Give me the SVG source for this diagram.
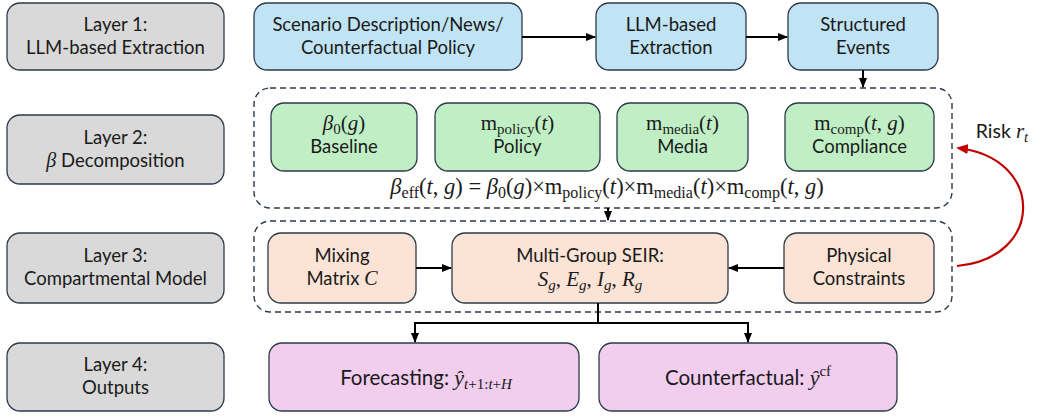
<svg xmlns="http://www.w3.org/2000/svg" width="1049" height="419" viewBox="0 0 1049 419">
<defs>
<style>
.layer{fill:#d9d9d9;stroke:#2b3a4a;stroke-width:1.3}
.blue{fill:#c1e4f4;stroke:#2b3a4a;stroke-width:1.3}
.green{fill:#c1efc5;stroke:#2b3a4a;stroke-width:1.3}
.orange{fill:#fbe3d5;stroke:#2b3a4a;stroke-width:1.3}
.pink{fill:#f1cdee;stroke:#2b3a4a;stroke-width:1.3}
.dash{fill:none;stroke:#2b3a4a;stroke-width:1.4;stroke-dasharray:6 4}
.t{font-family:Lato,"Open Sans","Liberation Sans",sans-serif;font-size:18.5px;fill:#1a1a1a;text-anchor:middle}
.m{font-family:"Liberation Serif","DejaVu Serif",serif;font-size:21px;fill:#1a1a1a}
.i{font-style:italic}
.s{font-size:15px}
.conn{fill:none;stroke:#000;stroke-width:2}
</style>
<marker id="ah" markerWidth="10" markerHeight="8" refX="9" refY="4" orient="auto" markerUnits="userSpaceOnUse">
<path d="M0,0 L10,4 L0,8 z" fill="#000"/>
</marker>
<marker id="ahr" markerWidth="12" markerHeight="10" refX="10" refY="5" orient="auto" markerUnits="userSpaceOnUse">
<path d="M0,0 L12,5 L0,10 z" fill="#c00000"/>
</marker>
</defs>
<rect width="1049" height="419" fill="#fff"/>

<g id="layer1"><rect class="layer" x="7" y="3" width="217" height="67" rx="13"/><text class="t" x="115.5" y="31">Layer 1:</text><text class="t" x="115.5" y="54">LLM-based Extraction</text></g>
<g id="layer2"><rect class="layer" x="7" y="115" width="217" height="69" rx="13"/><text class="t" x="115.5" y="144">Layer 2:</text><text class="t" x="115.5" y="167"><tspan class="m i" style="font-size:20px">β</tspan> Decomposition</text></g>
<g id="layer3"><rect class="layer" x="7" y="233" width="217" height="70" rx="13"/><text class="t" x="115.5" y="262">Layer 3:</text><text class="t" x="115.5" y="285">Compartmental Model</text></g>
<g id="layer4"><rect class="layer" x="7" y="343" width="217" height="68" rx="13"/><text class="t" x="115.5" y="371">Layer 4:</text><text class="t" x="115.5" y="394">Outputs</text></g>

<g id="scenario"><rect class="blue" x="254" y="3" width="268" height="67" rx="13"/><text class="t" x="388" y="31">Scenario Description/News/</text><text class="t" x="388" y="54">Counterfactual Policy</text></g>
<g id="llm"><rect class="blue" x="596" y="3" width="150" height="67" rx="13"/><text class="t" x="671" y="31">LLM-based</text><text class="t" x="671" y="54">Extraction</text></g>
<g id="events"><rect class="blue" x="788" y="3" width="150" height="67" rx="13"/><text class="t" x="863" y="31">Structured</text><text class="t" x="863" y="54">Events</text></g>

<g id="beta-group"><rect class="dash" x="254" y="88" width="698" height="120" rx="16"/>
<text class="m" x="607" y="194" text-anchor="middle" style="font-size:22.5px"><tspan class="i">β</tspan><tspan class="s" dy="4" style="font-size:16px">eff</tspan><tspan dy="-4">(</tspan><tspan class="i">t</tspan>, <tspan class="i">g</tspan>) = <tspan class="i">β</tspan><tspan class="s" dy="4" style="font-size:16px">0</tspan><tspan dy="-4">(</tspan><tspan class="i">g</tspan>)×m<tspan class="s" dy="4" style="font-size:16px">policy</tspan><tspan dy="-4">(</tspan><tspan class="i">t</tspan>)×m<tspan class="s" dy="4" style="font-size:16px">media</tspan><tspan dy="-4">(</tspan><tspan class="i">t</tspan>)×m<tspan class="s" dy="4" style="font-size:16px">comp</tspan><tspan dy="-4">(</tspan><tspan class="i">t</tspan>, <tspan class="i">g</tspan>)</text>
</g>
<g id="baseline"><rect class="green" x="271" y="103" width="146" height="68" rx="13"/><text class="m" x="344" y="130" text-anchor="middle"><tspan class="i">β</tspan><tspan class="s" dy="4">0</tspan><tspan dy="-4">(</tspan><tspan class="i">g</tspan>)</text><text class="t" x="344" y="153">Baseline</text></g>
<g id="policy"><rect class="green" x="435" y="103" width="165" height="68" rx="13"/><text class="m" x="517.5" y="130" text-anchor="middle">m<tspan class="s" dy="4">policy</tspan><tspan dy="-4">(</tspan><tspan class="i">t</tspan>)</text><text class="t" x="517.5" y="153">Policy</text></g>
<g id="media"><rect class="green" x="617" y="103" width="131" height="68" rx="13"/><text class="m" x="682.5" y="130" text-anchor="middle">m<tspan class="s" dy="4">media</tspan><tspan dy="-4">(</tspan><tspan class="i">t</tspan>)</text><text class="t" x="682.5" y="153">Media</text></g>
<g id="compliance"><rect class="green" x="785" y="103" width="149" height="68" rx="13"/><text class="m" x="859.5" y="130" text-anchor="middle">m<tspan class="s" dy="4">comp</tspan><tspan dy="-4">(</tspan><tspan class="i">t</tspan>, <tspan class="i">g</tspan>)</text><text class="t" x="859.5" y="153">Compliance</text></g>

<g id="model-group"><rect class="dash" x="254" y="221" width="698" height="91" rx="16"/></g>
<g id="mixing"><rect class="orange" x="268" y="233" width="148" height="70" rx="13"/><text class="t" x="342" y="262">Mixing</text><text class="t" x="342" y="285">Matrix <tspan class="m i" style="font-size:20px">C</tspan></text></g>
<g id="seir"><rect class="orange" x="452" y="233" width="276" height="70" rx="13"/><text class="t" x="590" y="262">Multi-Group SEIR:</text><text class="m" x="590" y="286" text-anchor="middle"><tspan class="i">S</tspan><tspan class="s i" dy="4">g</tspan><tspan dy="-4">, </tspan><tspan class="i">E</tspan><tspan class="s i" dy="4">g</tspan><tspan dy="-4">, </tspan><tspan class="i">I</tspan><tspan class="s i" dy="4">g</tspan><tspan dy="-4">, </tspan><tspan class="i">R</tspan><tspan class="s i" dy="4">g</tspan></text></g>
<g id="physical"><rect class="orange" x="784" y="233" width="150" height="70" rx="13"/><text class="t" x="859" y="262">Physical</text><text class="t" x="859" y="285">Constraints</text></g>

<g id="forecasting"><rect class="pink" x="269" y="343" width="310" height="68" rx="13"/><text class="t" x="426" y="385" style="font-size:20.5px">Forecasting: <tspan class="m i" style="font-size:22px">ŷ</tspan><tspan class="m i s" dy="4">t</tspan><tspan class="m s">+1:</tspan><tspan class="m i s">t</tspan><tspan class="m s">+</tspan><tspan class="m i s">H</tspan></text></g>
<g id="counterfactual"><rect class="pink" x="599" y="343" width="298" height="68" rx="13"/><text class="t" x="748" y="385" style="font-size:20.5px">Counterfactual: <tspan class="m i" style="font-size:22px">ŷ</tspan><tspan class="m s" dy="-9">cf</tspan></text></g>

<g id="risk-label"><text class="t" x="1002" y="138" style="font-size:19.5px">Risk <tspan class="m i">r</tspan><tspan class="m i s" dy="4">t</tspan></text></g>

<g id="connectors">
<line class="conn" x1="522" y1="37" x2="595" y2="37" marker-end="url(#ah)"/>
<line class="conn" x1="746" y1="37" x2="787" y2="37" marker-end="url(#ah)"/>
<line class="conn" x1="863" y1="70" x2="863" y2="87" marker-end="url(#ah)"/>
<line class="conn" x1="608" y1="208" x2="608" y2="220" stroke-width="1.4" marker-end="url(#ah)"/>
<line class="conn" x1="416" y1="268" x2="451" y2="268" marker-end="url(#ah)"/>
<line class="conn" x1="784" y1="268" x2="729" y2="268" marker-end="url(#ah)"/>
<path class="conn" d="M598,303 V323 M415,323 H748"/>
<line class="conn" x1="415" y1="322" x2="415" y2="342" marker-end="url(#ah)"/>
<line class="conn" x1="748" y1="322" x2="748" y2="342" marker-end="url(#ah)"/>
<path d="M957,266 C1045,258 1045,158 958,148" fill="none" stroke="#c00000" stroke-width="2.2" marker-end="url(#ahr)"/>
</g>
</svg>
